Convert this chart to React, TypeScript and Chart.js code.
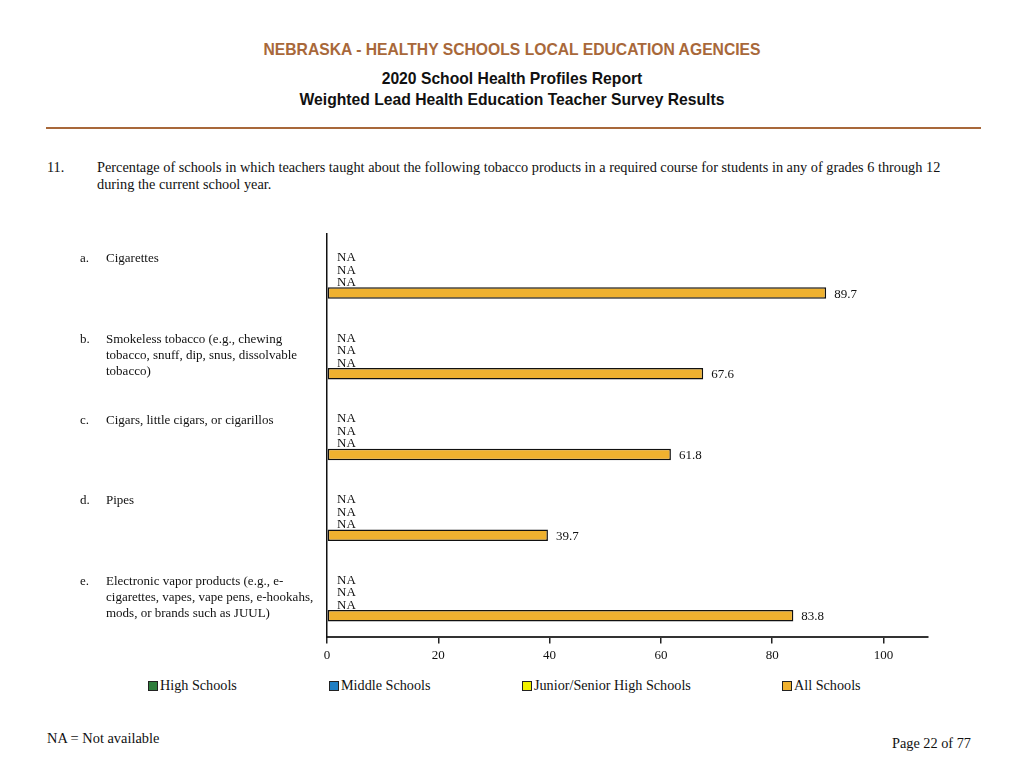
import { useEffect, useRef } from 'react';
import { Chart, registerables } from 'chart.js';

Chart.register(...registerables);

// categories (letter + wrapped lines)
const letters = ['a.', 'b.', 'c.', 'd.', 'e.'];
const categories: string[][] = [
  ['Cigarettes'],
  ['Smokeless tobacco (e.g., chewing', 'tobacco, snuff, dip, snus, dissolvable', 'tobacco)'],
  ['Cigars, little cigars, or cigarillos'],
  ['Pipes'],
  ['Electronic vapor products (e.g., e-', 'cigarettes, vapes, vape pens, e-hookahs,', 'mods, or brands such as JUUL)'],
];

// series values (null = NA)
const highSchools: (number | null)[] = [null, null, null, null, null];
const middleSchools: (number | null)[] = [null, null, null, null, null];
const juniorSeniorHigh: (number | null)[] = [null, null, null, null, null];
const allSchools: (number | null)[] = [89.7, 67.6, 61.8, 39.7, 83.8];

const seriesNames = ['High Schools', 'Middle Schools', 'Junior/Senior High Schools', 'All Schools'];
const seriesColors = ['#2e7d3c', '#1f7fc4', '#f2f200', '#efb12f'];

const xTicks = [0, 20, 40, 60, 80, 100];

const serif = '"Liberation Serif", "Times New Roman", serif';
const sans = '"Liberation Sans", Arial, sans-serif';

const labelsPlugin = {
  id: 'naAndValues',
  afterDatasetsDraw(chart: any) {
    const { ctx } = chart;
    const xScale = chart.scales.x;
    const yScale = chart.scales.y;
    ctx.save();
    ctx.font = `13px ${serif}`;
    ctx.fillStyle = '#111';
    ctx.textBaseline = 'middle';
    ctx.textAlign = 'left';
    chart.data.datasets.forEach((ds: any, di: number) => {
      const meta = chart.getDatasetMeta(di);
      meta.data.forEach((bar: any, i: number) => {
        const v = ds.data[i];
        const y = bar.y;
        if (v === null || v === undefined) {
          ctx.fillText('NA', xScale.getPixelForValue(0) + 10, y + 2);
        } else {
          ctx.fillText(v.toFixed(1), xScale.getPixelForValue(v) + 8, y + 1);
        }
      });
    });
    // category labels on the left
    ctx.font = `13px ${serif}`;
    categories.forEach((lines, i) => {
      const cy = yScale.getPixelForValue(i) - 15.5;
      ctx.fillText(letters[i], 80, cy);
      lines.forEach((line, li) => ctx.fillText(line, 106, cy + li * 16));
    });
    ctx.restore();
  },
};

function BarChart() {
  const canvasRef = useRef<HTMLCanvasElement | null>(null);

  useEffect(() => {
    if (!canvasRef.current) return;
    const ctx = canvasRef.current.getContext('2d');
    if (!ctx) return;

    const seriesData = [highSchools, middleSchools, juniorSeniorHigh, allSchools];

    const chart = new Chart(ctx, {
      type: 'bar',
      data: {
        labels: categories.map((c) => c.join(' ')),
        datasets: seriesData.map((data, i) => ({
          label: seriesNames[i],
          data,
          backgroundColor: seriesColors[i],
          borderColor: '#111',
          borderWidth: 1.5,
          borderSkipped: false,
          barPercentage: 0.92,
          categoryPercentage: 0.62,
        })),
      },
      options: {
        indexAxis: 'y',
        responsive: false,
        animation: false,
        layout: { padding: { left: 327, right: 96, top: 14, bottom: 3 } },
        plugins: {
          legend: { display: false },
          tooltip: { enabled: false },
        },
        scales: {
          x: {
            min: 0,
            max: 108,
            grid: {
              drawOnChartArea: false,
              drawTicks: true,
              tickLength: 6,
              color: '#222',
              lineWidth: 1.5,
            },
            border: { display: true, color: '#333', width: 2 },
            afterBuildTicks: (scale: any) => {
              scale.ticks = xTicks.map((v) => ({ value: v }));
            },
            ticks: {
              padding: 4,
              color: '#111',
              font: { family: serif, size: 13 },
            },
          },
          y: {
            grid: { display: false, drawTicks: false },
            border: { display: true, color: '#111', width: 1.5 },
            ticks: { display: false },
          },
        },
      },
      plugins: [labelsPlugin],
    });

    return () => {
      chart.destroy();
    };
  }, []);

  return <canvas ref={canvasRef} width={1024} height={450} style={{ position: 'absolute', left: 0, top: 220 }} />;
}

export default function App() {
  return (
    <div style={{ position: 'absolute', left: 0, top: 0, width: 1024, height: 768, background: '#fff', overflow: 'hidden' }}>
      <div style={{ position: 'absolute', top: 41, width: 1024, textAlign: 'center', font: `bold 15.7px ${sans}`, color: '#a8683a' }}>
        NEBRASKA - HEALTHY SCHOOLS LOCAL EDUCATION AGENCIES
      </div>
      <div style={{ position: 'absolute', top: 70, width: 1024, textAlign: 'center', font: `bold 15.7px ${sans}`, color: '#111' }}>
        2020 School Health Profiles Report
      </div>
      <div style={{ position: 'absolute', top: 91, width: 1024, textAlign: 'center', font: `bold 15.7px ${sans}`, color: '#111' }}>
        Weighted Lead Health Education Teacher Survey Results
      </div>
      <div style={{ position: 'absolute', left: 46, top: 127, width: 935, height: 2, background: '#a8683a' }} />
      <div style={{ position: 'absolute', left: 47, top: 159, font: `14.3px/17px ${serif}`, color: '#111' }}>11.</div>
      <div style={{ position: 'absolute', left: 97, top: 159, width: 860, font: `14.3px/17px ${serif}`, color: '#111' }}>
        Percentage of schools in which teachers taught about the following tobacco products in a required course for students in any of grades 6 through 12 during the current school year.
      </div>
      <BarChart />
      {seriesNames.map((name, i) => (
        <div
          key={name}
          style={{ position: 'absolute', left: [148, 329, 522, 782][i], top: 677, display: 'flex', alignItems: 'center', font: `14.2px ${serif}`, color: '#111' }}
        >
          <span style={{ display: 'inline-block', width: 8, height: 8, background: seriesColors[i], border: '1.5px solid #222', marginRight: 2 }} />
          {name}
        </div>
      ))}
      <div style={{ position: 'absolute', left: 47, top: 730, font: `14.4px ${serif}`, color: '#111' }}>NA = Not available</div>
      <div style={{ position: 'absolute', right: 53, top: 735, font: `14.3px ${serif}`, color: '#111' }}>Page 22 of 77</div>
    </div>
  );
}
